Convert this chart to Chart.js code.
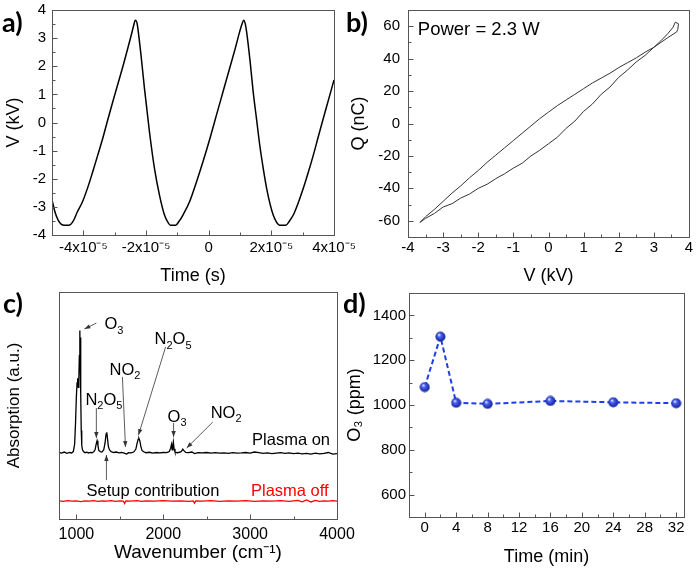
<!DOCTYPE html>
<html>
<head>
<meta charset="utf-8">
<script src="https://cdn.jsdelivr.net/npm/chart.js@4.4.1/dist/chart.umd.min.js"></script>
<style>
  body { margin: 0; background: #fff; }
  #fig { position: relative; width: 696px; height: 569px; overflow: hidden; background: #fff; }
  #fig canvas { position: absolute; }
  .tag { position: absolute; font-family: Lato, 'Open Sans', sans-serif; font-weight: bold; font-size: 27px; line-height: 27px; color: #000; }
</style>
</head>
<body>
<div id="fig">
  <canvas id="chartA" width="370" height="290" style="left:0;top:0"></canvas>
  <canvas id="chartB" width="348" height="290" style="left:348px;top:0"></canvas>
  <canvas id="chartC" width="370" height="283" style="left:0;top:286px"></canvas>
  <canvas id="chartD" width="352" height="283" style="left:344px;top:286px"></canvas>
  <div class="tag" style="left:2px;top:8px">a)</div>
  <div class="tag" style="left:346px;top:8px">b)</div>
  <div class="tag" style="left:3px;top:289px">c)</div>
  <div class="tag" style="left:343px;top:289px">d)</div>
</div>
<script>
// a) voltage waveform (time in s, voltage in kV)
var waveTime = [-5.00e-5, -4.90e-5, -4.80e-5, -4.70e-5, -4.60e-5, -4.45e-5, -4.32e-5, -4.20e-5, -4.02e-5, -3.85e-5,
  -3.70e-5, -3.54e-5, -3.38e-5, -3.22e-5, -3.06e-5, -2.90e-5, -2.74e-5, -2.60e-5, -2.47e-5, -2.40e-5,
  -2.34e-5, -2.29e-5, -2.26e-5, -2.15e-5, -2.05e-5, -1.89e-5, -1.73e-5, -1.57e-5, -1.41e-5, -1.30e-5,
  -1.22e-5, -1.05e-5, -0.95e-5, -0.82e-5, -0.61e-5, -0.40e-5, -0.18e-5, 0.04e-5, 0.25e-5, 0.46e-5,
  0.67e-5, 0.84e-5, 0.99e-5, 1.07e-5, 1.12e-5, 1.17e-5, 1.21e-5, 1.32e-5, 1.42e-5, 1.53e-5,
  1.63e-5, 1.74e-5, 1.85e-5, 1.96e-5, 2.06e-5, 2.16e-5, 2.27e-5, 2.46e-5, 2.58e-5, 2.70e-5,
  2.86e-5, 3.02e-5, 3.18e-5, 3.34e-5, 3.50e-5, 3.66e-5, 3.83e-5, 4.00e-5];
var waveVolt = [-2.75, -3.20, -3.48, -3.62, -3.65, -3.65, -3.50, -3.20, -2.80, -2.28,
  -1.75, -1.16, -0.56, 0.10, 0.74, 1.36, 1.98, 2.56, 3.11, 3.42,
  3.64, 3.55, 3.35, 2.30, 1.22, -0.33, -1.63, -2.58, -3.29, -3.55,
  -3.65, -3.65, -3.52, -3.29, -2.82, -2.15, -1.39, -0.57, 0.27, 1.10,
  1.93, 2.60, 3.23, 3.52, 3.64, 3.50, 3.23, 2.20, 1.10, 0.10,
  -0.80, -1.62, -2.34, -2.90, -3.29, -3.53, -3.65, -3.65, -3.50, -3.29,
  -2.85, -2.34, -1.77, -1.16, -0.50, 0.15, 0.83, 1.51];
var aTimeTicks = [-4e-5, -2e-5, 0, 2e-5, 4e-5];
var aTimeLabels = ['-4x10⁻⁵', '-2x10⁻⁵', '0', '2x10⁻⁵', '4x10⁻⁵'];
var aTimeMinor = [-3e-5, -1e-5, 1e-5, 3e-5];
var aVoltTicks = [-4, -3, -2, -1, 0, 1, 2, 3, 4];
var aVoltMinor = [-3.5, -2.5, -1.5, -0.5, 0.5, 1.5, 2.5, 3.5];

// b) Q-V Lissajous loop (kV, nC)
var loopVolt = [-3.66, -3.5, -3.25, -3.0, -2.75, -2.5, -2.25, -2.0, -1.75, -1.5, -1.25, -1.0, -0.75, -0.5, -0.25,
  0.0, 0.25, 0.5, 0.75, 1.0, 1.25, 1.5, 1.75, 2.0, 2.25, 2.5, 2.75, 3.0, 3.2, 3.4, 3.55, 3.61, 3.7, 3.68, 3.65,
  3.4, 3.2, 3.0, 2.75, 2.5, 2.25, 2.0, 1.75, 1.5, 1.25, 1.0, 0.75, 0.5, 0.25, 0.0,
  -0.25, -0.5, -0.75, -1.0, -1.25, -1.5, -1.75, -2.0, -2.25, -2.5, -2.75, -3.0, -3.25, -3.5, -3.66];
var loopCharge = [-61, -58.5, -55.5, -51.5, -49.5, -46, -43.5, -40, -37.5, -34, -31, -27.5, -24.5, -20, -16.5,
  -12.5, -8.5, -3, 1.5, 7.5, 12, 18, 22.5, 28.5, 33, 38, 42, 47, 51, 55.5, 59.5, 62.5, 61.5, 58, 56.5,
  53, 50, 47, 44, 40.5, 37.5, 34.5, 31, 28, 25, 21.5, 18, 14.5, 11, 7,
  3, -1.5, -6, -10.5, -15, -19.5, -24, -29, -33.5, -38.5, -43, -48, -53, -57.5, -61];
var bVoltTicks = [-4, -3, -2, -1, 0, 1, 2, 3, 4];
var bVoltMinor = [-3.5, -2.5, -1.5, -0.5, 0.5, 1.5, 2.5, 3.5];
var bChargeTicks = [-60, -40, -20, 0, 20, 40, 60];
var bChargeMinor = [-50, -30, -10, 10, 30, 50];

// c) FTIR spectra (wavenumber in cm-1, absorption in a.u.)
var onWave = [800, 830, 860, 890, 920, 945, 965, 980, 990, 1000, 1008, 1015, 1022, 1028, 1034, 1040, 1044, 1048, 1052, 1056,
  1062, 1070, 1085, 1100, 1120, 1140, 1160, 1180, 1200, 1215, 1228, 1238, 1248, 1258, 1275, 1295, 1315, 1330, 1342, 1350,
  1358, 1368, 1380, 1400, 1430, 1460, 1490, 1520, 1550, 1580, 1600, 1630, 1660, 1685, 1700, 1712, 1720, 1730, 1742, 1755,
  1775, 1800, 1840, 1880, 1920, 1960, 2000, 2040, 2070, 2085, 2095, 2102, 2110, 2116, 2124, 2135, 2160, 2190, 2210, 2225,
  2240, 2260, 2290, 2330, 2360, 2400, 2450, 2500, 2550, 2600, 2650, 2700, 2750, 2800, 2850, 2900, 2950, 3000,
  3050, 3100, 3150, 3200, 3250, 3300, 3350, 3400, 3450, 3500, 3550, 3600, 3650, 3700, 3750, 3800, 3850, 3900, 3950, 4000];
var onAbs = [2.93, 2.90, 2.95, 2.89, 2.93, 2.91, 2.97, 3.30, 4.20, 5.40, 6.00, 6.20, 5.80, 6.10, 7.20, 8.30, 6.80, 8.00, 5.50, 3.90,
  3.25, 3.05, 2.96, 2.92, 2.94, 2.91, 2.93, 2.92, 2.96, 3.05, 3.30, 3.45, 3.25, 3.02, 2.97, 2.95, 3.05, 3.35, 3.75, 3.82,
  3.55, 3.20, 3.05, 2.97, 2.93, 2.95, 2.91, 2.93, 2.90, 2.86, 2.92, 2.91, 2.95, 3.08, 3.35, 3.52, 3.55, 3.45, 3.20, 3.02,
  2.96, 2.92, 2.94, 2.90, 2.93, 2.91, 2.93, 2.92, 2.97, 3.12, 3.28, 3.05, 3.25, 3.40, 3.10, 2.95, 2.92, 2.94, 2.98, 3.08,
  3.00, 2.93, 2.92, 2.95, 2.88, 2.92, 2.91, 2.93, 2.90, 2.92, 2.90, 2.91, 2.89, 2.92, 2.90, 2.91, 2.93, 2.90,
  2.95, 2.92, 2.89, 2.91, 2.88, 2.90, 2.92, 2.89, 2.91, 2.88, 2.90, 2.87, 2.89, 2.86, 2.90, 2.87, 2.89, 2.93, 2.86, 2.88];
var offWave = [800, 850, 900, 950, 1000, 1050, 1100, 1150, 1200, 1250, 1300, 1350, 1400, 1450, 1500, 1540, 1555, 1570, 1620, 1700,
  1750, 1800, 1900, 2000, 2100, 2200, 2300, 2345, 2360, 2375, 2450, 2550, 2650, 2750, 2850, 2950, 3050, 3150, 3250, 3350,
  3450, 3550, 3600, 3650, 3700, 3750, 3800, 3850, 3900, 3950, 4000];
var offAbs = [0.80, 0.78, 0.81, 0.79, 0.80, 0.77, 0.80, 0.79, 0.81, 0.78, 0.80, 0.79, 0.81, 0.78, 0.80, 0.79, 0.68, 0.80, 0.79, 0.81,
  0.78, 0.80, 0.79, 0.81, 0.79, 0.80, 0.78, 0.80, 0.70, 0.80, 0.79, 0.81, 0.78, 0.80, 0.79, 0.81, 0.78, 0.80, 0.79, 0.81,
  0.78, 0.82, 0.76, 0.84, 0.75, 0.82, 0.78, 0.80, 0.79, 0.81, 0.79];
var cWaveTicks = [1000, 2000, 3000, 4000];
var cWaveMinor = [1500, 2500, 3500];

// d) ozone concentration vs time
var o3Time = [0, 2, 4, 8, 16, 24, 32];
var o3Conc = [1080, 1305, 1010, 1005, 1018, 1012, 1008];
var dTimeTicks = [0, 4, 8, 12, 16, 20, 24, 28, 32];
var dTimeMinor = [2, 6, 10, 14, 18, 22, 26, 30];
var dConcTicks = [600, 800, 1000, 1200, 1400];
var dConcMinor = [700, 900, 1100, 1300];

Chart.defaults.font.family = "'Liberation Sans', Arial, sans-serif";
Chart.defaults.color = '#000';

var FONT = "'Liberation Sans', Arial, sans-serif";

function pairs(xs, ys) {
  return xs.map(function (x, i) { return { x: x, y: ys[i] }; });
}

// axis with a fixed box size and fixed tick values
function axis(min, max, size, ticks, labels, tickSize, tickPad, title, titleSize, titlePad) {
  return {
    type: 'linear', min: min, max: max,
    grid: { display: false, drawTicks: false }, border: { display: false },
    afterBuildTicks: function (s) { s.ticks = (ticks || []).map(function (v) { return { value: v }; }); },
    afterFit: function (s) {
      if (s.isHorizontal()) s.height = size; else s.width = size;
      s.paddingLeft = 0; s.paddingRight = 0; s.paddingTop = 0; s.paddingBottom = 0;
    },
    ticks: {
      display: !!ticks, autoSkip: false, maxRotation: 0, padding: tickPad,
      font: { size: tickSize },
      callback: function (v, i) { return labels ? labels[i] : String(v); }
    },
    title: { display: true, text: title, font: { size: titleSize }, padding: titlePad }
  };
}

// text with _n subscripts
function drawRich(ctx, text, x, y, size, color) {
  var parts = text.split(/(_\d)/);
  var px = x;
  ctx.fillStyle = color;
  ctx.textAlign = 'left';
  ctx.textBaseline = 'middle';
  parts.forEach(function (p) {
    if (!p) return;
    if (p[0] === '_') {
      ctx.font = Math.round(size * 0.68) + 'px ' + FONT;
      ctx.fillText(p[1], px, y + size * 0.34);
      px += ctx.measureText(p[1]).width;
    } else {
      ctx.font = size + 'px ' + FONT;
      ctx.fillText(p, px, y);
      px += ctx.measureText(p).width;
    }
  });
}

// frame box, inward ticks and text notes
function decor(cfg) {
  return {
    id: 'decor',
    afterDraw: function (chart) {
      var ctx = chart.ctx, a = chart.chartArea;
      var xs = chart.scales.x, ys = chart.scales.y;
      var l = Math.round(a.left) + 0.5, t = Math.round(a.top) + 0.5;
      var r = Math.round(a.right) + 0.5, b = Math.round(a.bottom) + 0.5;
      ctx.save();
      ctx.strokeStyle = '#555';
      ctx.lineWidth = 1;
      ctx.strokeRect(l, t, r - l, b - t);
      ctx.beginPath();
      function tx(v, len) { var p = Math.round(xs.getPixelForValue(v)) + 0.5; ctx.moveTo(p, b); ctx.lineTo(p, b - len); }
      function ty(v, len) { var p = Math.round(ys.getPixelForValue(v)) + 0.5; ctx.moveTo(l, p); ctx.lineTo(l + len, p); }
      (cfg.xMajor || []).forEach(function (v) { tx(v, 5); });
      (cfg.xMinor || []).forEach(function (v) { tx(v, 3); });
      (cfg.yMajor || []).forEach(function (v) { ty(v, 5); });
      (cfg.yMinor || []).forEach(function (v) { ty(v, 3); });
      ctx.stroke();

      (cfg.notes || []).forEach(function (n) {
        if (n.arrow) {
          var x1 = xs.getPixelForValue(n.arrow[0]), y1 = ys.getPixelForValue(n.arrow[1]);
          var x2 = xs.getPixelForValue(n.arrow[2]), y2 = ys.getPixelForValue(n.arrow[3]);
          var ang = Math.atan2(y2 - y1, x2 - x1);
          ctx.strokeStyle = '#333';
          ctx.fillStyle = '#333';
          ctx.lineWidth = 0.8;
          ctx.beginPath(); ctx.moveTo(x1, y1); ctx.lineTo(x2, y2); ctx.stroke();
          ctx.beginPath();
          ctx.moveTo(x2, y2);
          ctx.lineTo(x2 - 6 * Math.cos(ang) + 2.2 * Math.sin(ang), y2 - 6 * Math.sin(ang) - 2.2 * Math.cos(ang));
          ctx.lineTo(x2 - 6 * Math.cos(ang) - 2.2 * Math.sin(ang), y2 - 6 * Math.sin(ang) + 2.2 * Math.cos(ang));
          ctx.closePath(); ctx.fill();
        }
        if (n.text) {
          drawRich(ctx, n.text, xs.getPixelForValue(n.x), ys.getPixelForValue(n.y), n.size, n.color || '#000');
        }
      });
      ctx.restore();
    }
  };
}

function sphere() {
  var c = document.createElement('canvas');
  c.width = 11; c.height = 11;
  var g = c.getContext('2d');
  var grad = g.createRadialGradient(4, 3.5, 0.3, 5.5, 5.5, 5.5);
  grad.addColorStop(0, '#eef1ff');
  grad.addColorStop(0.3, '#4a62f0');
  grad.addColorStop(1, '#0a1790');
  g.fillStyle = grad;
  g.beginPath(); g.arc(5.5, 5.5, 5, 0, Math.PI * 2); g.fill();
  return c;
}

var base = {
  responsive: false, animation: false, devicePixelRatio: 1,
  plugins: { legend: { display: false }, tooltip: { enabled: false } }
};

// a)
new Chart(document.getElementById('chartA'), {
  type: 'line',
  data: { datasets: [{ data: pairs(waveTime, waveVolt), borderColor: '#000', borderWidth: 1.5, pointRadius: 0, cubicInterpolationMode: 'monotone' }] },
  options: Object.assign({}, base, {
    layout: { padding: { left: 0, top: 10, right: 36, bottom: 0 } },
    scales: {
      x: axis(-5e-5, 4e-5, 55, aTimeTicks, aTimeLabels, 15, 4, 'Time (s)', 18, { top: 0, bottom: 3 }),
      y: axis(-4, 4, 52, aVoltTicks, null, 15, 6, 'V (kV)', 18, { top: 3, bottom: 0 })
    }
  }),
  plugins: [decor({ xMajor: aTimeTicks, xMinor: aTimeMinor, yMajor: aVoltTicks, yMinor: aVoltMinor })]
});

// b)
new Chart(document.getElementById('chartB'), {
  type: 'scatter',
  data: { datasets: [{ data: pairs(loopVolt, loopCharge), showLine: true, borderColor: '#333', borderWidth: 1, pointRadius: 0 }] },
  options: Object.assign({}, base, {
    layout: { padding: { left: 0, top: 10, right: 7, bottom: 0 } },
    scales: {
      x: axis(-4, 4, 53, bVoltTicks, null, 15, 2, 'V (kV)', 18, { top: 0, bottom: 3 }),
      y: axis(-70, 70, 60, bChargeTicks, null, 15, 8, 'Q (nC)', 18, { top: 0, bottom: 0 })
    }
  }),
  plugins: [decor({ xMajor: bVoltTicks, xMinor: bVoltMinor, yMajor: bChargeTicks, yMinor: bChargeMinor,
    notes: [{ text: 'Power = 2.3 W', x: -3.72, y: 57.5, size: 18.5 }] })]
});

// c)
new Chart(document.getElementById('chartC'), {
  type: 'scatter',
  data: { datasets: [
    { data: pairs(onWave, onAbs), showLine: true, borderColor: '#000', borderWidth: 1.3, pointRadius: 0 },
    { data: pairs(offWave, offAbs), showLine: true, borderColor: '#ff0000', borderWidth: 1.3, pointRadius: 0 }
  ] },
  options: Object.assign({}, base, {
    layout: { padding: { left: 0, top: 6, right: 33, bottom: 0 } },
    scales: {
      x: axis(800, 4000, 50, cWaveTicks, null, 16, 6, 'Wavenumber (cm⁻¹)', 19, { top: 0, bottom: 5 }),
      y: axis(0, 10, 59, null, null, 15, 0, 'Absorption (a.u.)', 17, { top: 4, bottom: 0 })
    }
  }),
  plugins: [decor({ xMajor: cWaveTicks, xMinor: cWaveMinor, notes: [
    { text: 'O_3', x: 1323, y: 8.55, size: 16.5, arrow: [1230, 8.63, 1092, 8.37] },
    { text: 'N_2O_5', x: 1900, y: 7.89, size: 16.5, arrow: [2027, 7.58, 1715, 3.70] },
    { text: 'NO_2', x: 1381, y: 6.56, size: 16.5, arrow: [1530, 6.26, 1565, 3.17] },
    { text: 'N_2O_5', x: 1104, y: 5.24, size: 16.5, arrow: [1230, 4.89, 1230, 3.57] },
    { text: 'O_3', x: 2050, y: 4.49, size: 16.5, arrow: [2119, 4.23, 2119, 3.61] },
    { text: 'NO_2', x: 2546, y: 4.67, size: 16.5, arrow: [2570, 4.27, 2270, 3.13] },
    { text: 'Plasma on', x: 3022, y: 3.48, size: 16.5 },
    { text: 'Setup contribution', x: 1116, y: 1.23, size: 16.5, arrow: [1346, 1.72, 1346, 2.82] },
    { text: 'Plasma off', x: 3010, y: 1.23, size: 16.5, color: '#ff0000' }
  ] })]
});

// d)
new Chart(document.getElementById('chartD'), {
  type: 'line',
  data: { datasets: [{ data: pairs(o3Time, o3Conc), borderColor: '#1f3fe6', borderWidth: 2, borderDash: [5, 3],
    pointStyle: sphere(), pointRadius: 5 }] },
  options: Object.assign({}, base, {
    layout: { padding: { left: 0, top: 4, right: 12, bottom: 0 } },
    scales: {
      x: axis(-2, 33, 52, dTimeTicks, null, 15, 2, 'Time (min)', 18, { top: 0, bottom: 1 }),
      y: axis(500, 1500, 65, dConcTicks, null, 15, 3, 'O₃ (ppm)', 18, { top: 0, bottom: 0 })
    }
  }),
  plugins: [decor({ xMajor: dTimeTicks, xMinor: dTimeMinor, yMajor: dConcTicks, yMinor: dConcMinor })]
});
</script>
</body>
</html>
